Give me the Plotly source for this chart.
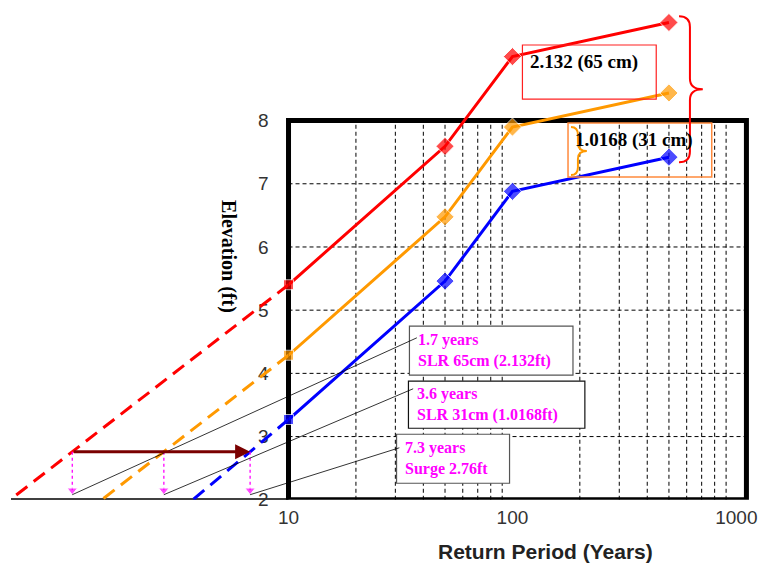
import numpy as np
import plotly.graph_objects as go

# Return periods (years) and present-day stillwater elevation (ft)
return_period = [10, 50, 100, 500]
elev_present = [3.27, 5.46, 6.88, 7.42]

# Sea level rise scenarios (ft) and the storm surge level (ft)
slr_31cm_ft = 1.0168
slr_65cm_ft = 2.132
surge_ft = 2.76

# Return period (years) at which each curve falls to the surge level
surge_period_present = 7.3
surge_period_slr31 = 3.6
surge_period_slr65 = 1.7

x_ticks = [10, 100, 1000]
x_minor = [20, 30, 40, 50, 60, 70, 80, 90, 200, 300, 400, 500, 600, 700, 800, 900]
y_ticks = [2, 3, 4, 5, 6, 7, 8]
y_grid = [3, 4, 5, 6, 7]

elev_slr31 = [v + slr_31cm_ft for v in elev_present]
elev_slr65 = [v + slr_65cm_ft for v in elev_present]

W, H = 767, 565
S, OX = 0.98, 8  # layout grid -> figure canvas


def cx(X):
    return (X - OX) / S


def cy(Y):
    return Y / S


def px(X):
    return cx(X) / W


def py(Y):
    return 1 - cy(Y) / H


# axis placement on the layout grid
X10, X_RIGHT, X_LEFT = 288, 750, 8
Y_BOT, Y_8 = 499.5, 120.5
FT_PX = (Y_BOT - Y_8) / 6
DEC2_PX = 283.5
x2_lo = 1 - (X10 - X_LEFT) / DEC2_PX
y_top = 2 + Y_BOT / FT_PX

series = [
    (elev_slr65, surge_period_slr65, "#ff0000"),
    (elev_slr31, surge_period_slr31, "#ff9900"),
    (elev_present, surge_period_present, "#0000ff"),
]

fig = go.Figure()

for vals, t_surge, color in series:
    # extend the 10-year segment (log-x) down through the surge level to 2 ft
    lc = np.log10(t_surge)
    per_ft = (1.0 - lc) / (vals[0] - surge_ft)
    x_end = 10 ** (lc - (surge_ft - 2) * per_ft)
    fig.add_trace(go.Scatter(
        x=[10, t_surge, x_end], y=[vals[0], surge_ft, 2],
        xaxis="x2", yaxis="y", mode="lines",
        line=dict(color=color, width=3, dash="14px,8px"),
        showlegend=False, hoverinfo="skip"))
    # dotted drop from the surge crossing
    fig.add_trace(go.Scatter(
        x=[t_surge, t_surge], y=[surge_ft, 2.15],
        xaxis="x2", yaxis="y", mode="lines+markers",
        line=dict(color="#ff00ff", width=1.3, dash="dot"),
        marker=dict(symbol="triangle-down", size=[0, 9], color="#ff00ff"),
        showlegend=False, hoverinfo="skip", cliponaxis=False))

for vals, t_surge, color in series:
    fig.add_trace(go.Scatter(
        x=return_period, y=vals, xaxis="x", yaxis="y",
        mode="lines+markers",
        line=dict(color=color, width=3),
        marker=dict(symbol=["square", "diamond", "diamond", "diamond"],
                    size=[10, 14, 14, 14], color=color),
        cliponaxis=False, showlegend=False, hoverinfo="skip"))

shapes = []
grid_line = dict(color="black", width=1, dash="4px,3px")
for v in x_minor:
    shapes.append(dict(type="line", xref="x", yref="y", x0=v, x1=v, y0=2, y1=8,
                       line=grid_line, layer="below"))
for v in y_grid:
    shapes.append(dict(type="line", xref="x domain", yref="y", x0=0, x1=1, y0=v, y1=v,
                       line=grid_line, layer="below"))
# heavy frame around the 10-1000 yr panel
shapes.append(dict(type="rect", xref="x domain", yref="y", x0=0, x1=1, y0=2, y1=8,
                   line=dict(color="black", width=5), layer="below"))
# baseline under the extrapolated section
shapes.append(dict(type="line", xref="x2 domain", yref="y", x0=0, x1=1, y0=2, y1=2,
                   line=dict(color="black", width=3), layer="below"))

# callout boxes
for (x0, y0, x1, y1, bc) in [(410, 326, 575, 375, "#555555"),
                             (409, 381, 587, 428, "#111111"),
                             (397, 434, 511, 483, "#555555")]:
    shapes.append(dict(type="rect", xref="paper", yref="paper",
                       x0=px(x0), x1=px(x1), y0=py(y1), y1=py(y0),
                       fillcolor="white", line=dict(color=bc, width=1.2)))
shapes.append(dict(type="rect", xref="paper", yref="paper",
                   x0=px(524), x1=px(659), y0=py(99), y1=py(45),
                   line=dict(color="#ff2020", width=1.2)))
shapes.append(dict(type="rect", xref="paper", yref="paper",
                   x0=px(570), x1=px(715), y0=py(177), y1=py(123),
                   line=dict(color="#ff8a3d", width=1.5)))


def brace(x0, xs, xt, y_hi, y_lo, r):
    ym = (y_hi + y_lo) / 2
    return (f"M {x0},{y_hi} Q {xs},{y_hi} {xs},{y_hi - r} "
            f"L {xs},{ym + r} Q {xs},{ym} {xt},{ym} "
            f"Q {xs},{ym} {xs},{ym - r} L {xs},{y_lo + r} "
            f"Q {xs},{y_lo} {x0},{y_lo}")


# brace spanning present-day to +65 cm at the 500-yr event
shapes.append(dict(type="path", xref="paper", yref="y",
                   path=brace(px(682), px(693), px(706), elev_slr65[-1] + 0.1,
                              elev_present[-1] - 0.08, 0.17),
                   line=dict(color="#ff0000", width=2)))
shapes.append(dict(type="path", xref="paper", yref="paper",
                   path=brace(px(573), px(580), px(589), py(127), py(175), 8 / H),
                   line=dict(color="#ff9900", width=2)))

serif_m = dict(family="Liberation Serif", size=16, color="#ff00ff")
annotations = []
for (xl, yc, txt) in [(417, 350, "1.7 years<br>SLR 65cm (2.132ft)"),
                      (416, 404, "3.6 years<br>SLR 31cm (1.0168ft)"),
                      (404, 458, "7.3 years<br>Surge 2.76ft")]:
    annotations.append(dict(x=px(xl), y=py(yc), xref="paper", yref="paper",
                            text="<b>" + txt + "</b>", showarrow=False, align="left",
                            xanchor="left", yanchor="middle", font=serif_m))

big_b = dict(family="Liberation Serif", size=19, color="black")
annotations.append(dict(x=px(530), y=py(62), xref="paper", yref="paper",
                        text="<b>2.132 (65 cm)</b>", showarrow=False,
                        xanchor="left", yanchor="middle", font=big_b))
annotations.append(dict(x=px(575), y=py(140), xref="paper", yref="paper",
                        text="<b>1.0168 (31 cm)</b>", showarrow=False,
                        xanchor="left", yanchor="middle", font=big_b))


def x2_grid(t):
    return X10 - (1 - np.log10(t)) * DEC2_PX


# leader lines from the callouts to the surge crossings
head_y = 2.08
head_Y = Y_BOT - (head_y - 2) * FT_PX
for t, (tx, ty) in [(surge_period_slr65, (409, 340)),
                    (surge_period_slr31, (408, 390)),
                    (surge_period_present, (397, 448))]:
    annotations.append(dict(x=np.log10(t), y=head_y, xref="x2", yref="y", text="",
                            showarrow=True, arrowhead=0, arrowwidth=0.8,
                            arrowcolor="black",
                            ax=(tx - x2_grid(t)) / S, ay=(ty - head_Y) / S,
                            standoff=0, startstandoff=0))

# surge return-period shift arrow
annotations.append(dict(x=np.log10(surge_period_present), y=surge_ft, xref="x2", yref="y",
                        ax=np.log10(surge_period_slr65), ay=surge_ft, axref="x2", ayref="y",
                        text="", showarrow=True, arrowhead=2, arrowsize=1,
                        arrowwidth=3, arrowcolor="#7a0000", standoff=0))

annotations.append(dict(x=px(228), y=py(256), xref="paper", yref="paper",
                        xanchor="center", yanchor="middle",
                        text="<b>Elevation (ft)</b>", textangle=90, showarrow=False,
                        font=dict(family="Liberation Serif", size=20, color="black")))
annotations.append(dict(x=px(547), y=py(551), xref="paper", yref="paper",
                        xanchor="center", yanchor="middle",
                        text="<b>Return Period (Years)</b>", showarrow=False,
                        font=dict(family="Liberation Sans", size=21, color="#222222")))

tick_font = dict(family="Liberation Sans", size=19, color="#333333")

fig.update_layout(
    width=W, height=H,
    margin=dict(l=0, r=0, t=0, b=0),
    paper_bgcolor="white", plot_bgcolor="white",
    showlegend=False,
    xaxis=dict(type="log", range=[1, 3.045], domain=[px(X10), px(X_RIGHT)],
               anchor="y", showgrid=False, zeroline=False, showline=False,
               tickvals=x_ticks, ticktext=[str(v) for v in x_ticks],
               tickfont=tick_font, ticks="", ticklabelstandoff=4,
               ticklabeloverflow="allow"),
    xaxis2=dict(type="log", range=[x2_lo, 1], domain=[px(X_LEFT), px(X10)],
                anchor="y", showgrid=False, zeroline=False, showline=False,
                showticklabels=False, ticks=""),
    yaxis=dict(range=[2, y_top], domain=[py(Y_BOT), 1], anchor="x",
               showgrid=False, zeroline=False, showline=False,
               tickvals=y_ticks, ticktext=[str(v) for v in y_ticks],
               tickfont=tick_font, ticks="", ticklabelstandoff=19),
    shapes=shapes,
    annotations=annotations,
)

fig.write_html("out.html")
